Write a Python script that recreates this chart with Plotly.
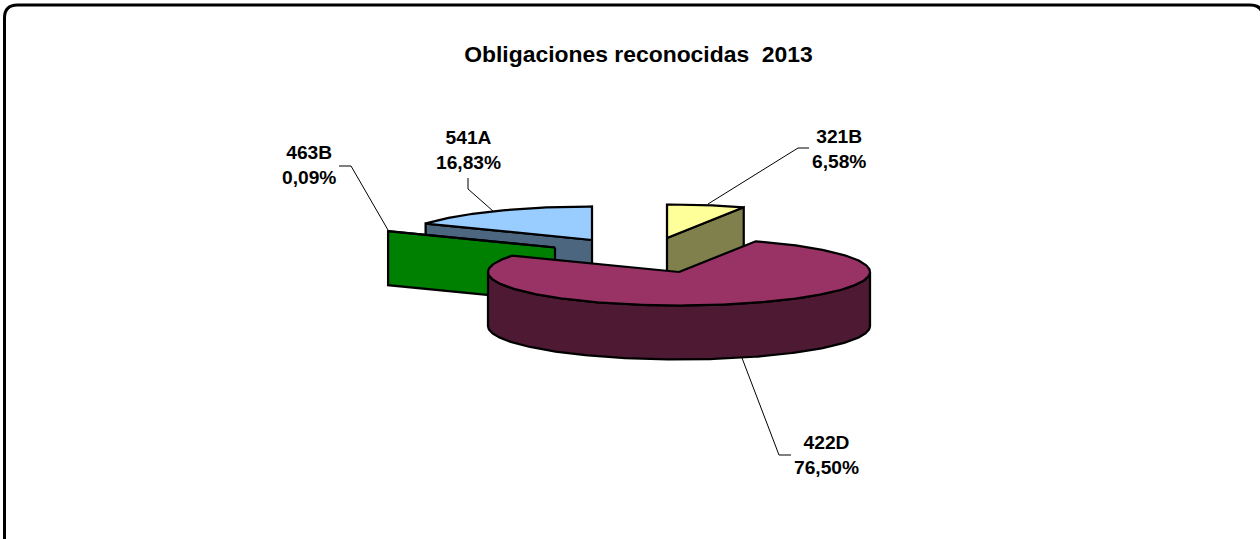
import math
import plotly.graph_objects as go

# ---- data ----
categories = ["321B", "422D", "463B", "541A"]
percent_labels = ["6,58%", "76,50%", "0,09%", "16,83%"]
values = [6.58, 76.50, 0.09, 16.83]
top_colors = ["#FFFF99", "#993366", "#00FF00", "#99CCFF"]
side_colors = ["#80804D", "#4D1933", "#008000", "#4D6680"]

# ---- projection / layout of the exploded 3-D pie (pixels) ----
W, H = 1260, 539
RX, RY, DEPTH = 191, 33.5, 54
apex = {"321B": (667, 238), "422D": (679, 272), "463B": (555, 247.5), "541A": (592, 240)}
draw_order = ["321B", "541A", "463B", "422D"]
label_pos = {"321B": (839, 148.5), "422D": (826, 454.5), "463B": (309, 165), "541A": (468, 149.5)}
leaders = {
    "321B": ([809, 798, 708], [148, 148, 204]),
    "422D": ([791, 779, 742], [455, 455, 358]),
    "463B": ([339, 351, 388], [166, 166, 230]),
    "541A": ([468, 468, 493], [178, 189, 211]),
}

total = sum(values)
spans, acc = {}, 0.0
for c, v in zip(categories, values):
    spans[c] = (acc * 360 / total, (acc + v) * 360 / total)
    acc += v


def rim(c, a, dy=0):
    cx, cy = apex[c]
    r = math.radians(a)
    return cx + RX * math.sin(r), cy - RY * math.cos(r) + dy


def arc(c, a0, a1, dy=0):
    n = max(2, int(abs(a1 - a0)) + 2)
    return [rim(c, a0 + (a1 - a0) * i / (n - 1), dy) for i in range(n)]


fig = go.Figure()


def poly(pts, fill, name):
    xs = [p[0] for p in pts] + [pts[0][0]]
    ys = [p[1] for p in pts] + [pts[0][1]]
    fig.add_trace(go.Scatter(x=xs, y=ys, mode="lines", fill="toself", fillcolor=fill,
                             line=dict(color="black", width=2.25), name=name,
                             showlegend=False, hoverinfo="skip"))


for c in draw_order:
    i = categories.index(c)
    a0, a1 = spans[c]
    ap = apex[c]
    low = (ap[0], ap[1] + DEPTH)
    # cut faces that look towards the viewer
    if math.sin(math.radians(a0)) < -1e-6:
        poly([ap, rim(c, a0), rim(c, a0, DEPTH), low], side_colors[i], c)
    if math.sin(math.radians(a1)) > 1e-6:
        poly([ap, rim(c, a1), rim(c, a1, DEPTH), low], side_colors[i], c)
    # outer wall (front half only)
    f0, f1 = max(a0, 90), min(a1, 270)
    if f1 > f0:
        poly(arc(c, f0, f1) + arc(c, f1, f0, DEPTH), side_colors[i], c)
    # top face
    poly([ap] + arc(c, a0, a1), top_colors[i], c)

for c, (lx, ly) in leaders.items():
    fig.add_trace(go.Scatter(x=lx, y=ly, mode="lines", line=dict(color="black", width=1),
                             showlegend=False, hoverinfo="skip"))

for c, p in zip(categories, percent_labels):
    x, y = label_pos[c]
    fig.add_annotation(x=x, y=y, text=f"<b>{c}<br>{p}</b>", showarrow=False, align="center",
                       xanchor="center", yanchor="middle",
                       font=dict(family="Liberation Sans", size=19.2, color="black"))

fig.update_layout(
    width=W, height=H, margin=dict(l=0, r=0, t=0, b=0),
    paper_bgcolor="white", plot_bgcolor="white", showlegend=False,
    title=dict(text="<b>Obligaciones reconocidas\u00a0\u00a02013</b>", x=638.5 / W, y=1 - 54 / H,
               xanchor="center", yanchor="middle",
               font=dict(family="Liberation Sans", size=22.9, color="black")),
    xaxis=dict(range=[0, W], visible=False, fixedrange=True),
    yaxis=dict(range=[H, 0], visible=False, fixedrange=True),
    shapes=[dict(type="path", xref="x", yref="y", line=dict(color="black", width=3),
                 path="M 4.5 560 L 4.5 18 Q 4.5 5 17.5 5 L 1250 5 Q 1263 5 1263 18 L 1263 560")],
)
fig.write_html("out.html", post_script="document.body.style.margin='0';", config={"displayModeBar": False})
